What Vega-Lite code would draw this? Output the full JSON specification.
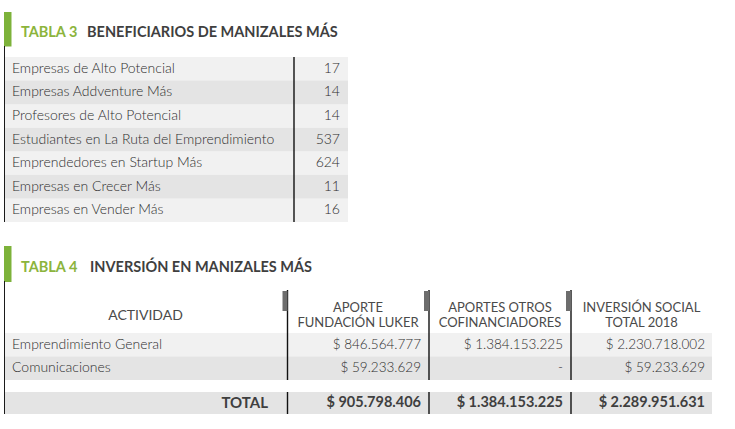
{
  "$schema": "https://vega.github.io/schema/vega-lite/v6.json",
  "padding": 0,
  "background": "white",
  "bounds": "flush",
  "spacing": 0,
  "config": {
    "view": {"stroke": null},
    "font": "Lato",
    "locale": {"number": {"decimal": ",", "thousands": ".", "grouping": [3], "currency": ["$ ", ""]}}
  },
  "datasets": {
    "titulos": [
      {"tabla": "TABLA 3", "titulo": "BENEFICIARIOS DE MANIZALES MÁS"},
      {"tabla": "TABLA 4", "titulo": "INVERSIÓN EN MANIZALES MÁS"}
    ],
    "beneficiarios": [
      {"beneficiario": "Empresas de Alto Potencial", "cantidad": 17},
      {"beneficiario": "Empresas Addventure Más", "cantidad": 14},
      {"beneficiario": "Profesores de Alto Potencial", "cantidad": 14},
      {"beneficiario": "Estudiantes en La Ruta del Emprendimiento", "cantidad": 537},
      {"beneficiario": "Emprendedores en Startup Más", "cantidad": 624},
      {"beneficiario": "Empresas en Crecer Más", "cantidad": 11},
      {"beneficiario": "Empresas en Vender Más", "cantidad": 16}
    ],
    "encabezados": [
      {"actividad": "ACTIVIDAD", "luker": "APORTE\nFUNDACIÓN LUKER", "otros": "APORTES OTROS\nCOFINANCIADORES", "total": "INVERSIÓN SOCIAL\nTOTAL 2018"}
    ],
    "inversion": [
      {"actividad": "Emprendimiento General", "luker": 846564777, "otros": 1384153225, "total": 2230718002},
      {"actividad": "Comunicaciones", "luker": 59233629, "otros": null, "total": 59233629}
    ],
    "totales": [
      {"actividad": "TOTAL", "luker": 905798406, "otros": 1384153225, "total": 2289951631}
    ],
    "estructura": [{}]
  },
  "vconcat": [
    {
      "width": 735, "height": 57,
      "data": {"name": "titulos"},
      "transform": [{"filter": "datum.tabla == 'TABLA 3'"}],
      "layer": [
        {"mark": {"type": "rect", "color": "#7db23a"},
         "encoding": {"x": {"datum": 4, "type": "quantitative", "scale": {"domain": [0, 735], "nice": false, "zero": false}, "axis": null}, "x2": {"datum": 11.5},
                      "y": {"datum": 12, "type": "quantitative", "scale": {"domain": [0, 57], "nice": false, "zero": false, "reverse": true}, "axis": null}, "y2": {"datum": 46.5}}},
        {"mark": {"type": "rule", "color": "#1a1a1a", "strokeWidth": 1},
         "encoding": {"x": {"datum": 4.5, "type": "quantitative"}, "y": {"datum": 46, "type": "quantitative"}, "y2": {"datum": 57}}},
        {"mark": {"type": "text", "align": "left", "baseline": "alphabetic", "fontWeight": "bold", "fontSize": 14.5, "color": "#8cb43c"},
         "encoding": {"x": {"datum": 21, "type": "quantitative"}, "y": {"datum": 36.5, "type": "quantitative"}, "text": {"field": "tabla"}}},
        {"mark": {"type": "text", "align": "left", "baseline": "alphabetic", "fontWeight": "bold", "fontSize": 14.5, "color": "#3f3f3f"},
         "encoding": {"x": {"datum": 87, "type": "quantitative"}, "y": {"datum": 36.5, "type": "quantitative"}, "text": {"field": "titulo"}}}
      ]
    },
    {
      "width": 735, "height": 165,
      "data": {"name": "beneficiarios"},
      "transform": [{"window": [{"op": "row_number", "as": "fila"}]}],
      "layer": [
        {"mark": {"type": "rect", "color": "#f1f1f1"},
         "encoding": {"x": {"datum": 4, "type": "quantitative", "scale": {"domain": [0, 735], "nice": false, "zero": false}, "axis": null}, "x2": {"datum": 348},
                      "y": {"field": "beneficiario", "type": "nominal", "sort": null, "axis": null, "scale": {"paddingInner": 0, "paddingOuter": 0}}}},
        {"transform": [{"filter": "datum.fila % 2 == 0"}],
         "mark": {"type": "rect", "color": "#e4e4e4"},
         "encoding": {"x": {"datum": 4, "type": "quantitative"}, "x2": {"datum": 348},
                      "y": {"field": "beneficiario", "type": "nominal", "sort": null, "axis": null}}},
        {"transform": [{"filter": "datum.fila == 1"}],
         "mark": {"type": "rule", "color": "#1a1a1a", "strokeWidth": 1},
         "encoding": {"x": {"datum": 4.5, "type": "quantitative"}}},
        {"transform": [{"filter": "datum.fila == 1"}],
         "mark": {"type": "rule", "color": "#111111", "strokeWidth": 1.4},
         "encoding": {"x": {"datum": 294, "type": "quantitative"}}},
        {"mark": {"type": "text", "align": "left", "baseline": "middle", "fontSize": 14, "fontWeight": 300, "color": "#2e2e2e"},
         "encoding": {"x": {"datum": 12, "type": "quantitative"},
                      "y": {"field": "beneficiario", "type": "nominal", "sort": null, "axis": null},
                      "text": {"field": "beneficiario"}}},
        {"mark": {"type": "text", "align": "right", "baseline": "middle", "fontSize": 14, "fontWeight": 300, "color": "#2e2e2e"},
         "encoding": {"x": {"datum": 340, "type": "quantitative"},
                      "y": {"field": "beneficiario", "type": "nominal", "sort": null, "axis": null},
                      "text": {"field": "cantidad", "type": "quantitative"}}}
      ]
    },
    {
      "width": 735, "height": 68,
      "data": {"name": "titulos"},
      "transform": [{"filter": "datum.tabla == 'TABLA 4'"}],
      "layer": [
        {"mark": {"type": "rect", "color": "#7db23a"},
         "encoding": {"x": {"datum": 4, "type": "quantitative", "scale": {"domain": [0, 735], "nice": false, "zero": false}, "axis": null}, "x2": {"datum": 11.5},
                      "y": {"datum": 24, "type": "quantitative", "scale": {"domain": [0, 68], "nice": false, "zero": false, "reverse": true}, "axis": null}, "y2": {"datum": 60}}},
        {"mark": {"type": "rule", "color": "#1a1a1a", "strokeWidth": 1},
         "encoding": {"x": {"datum": 4.5, "type": "quantitative"}, "y": {"datum": 59, "type": "quantitative"}, "y2": {"datum": 68}}},
        {"mark": {"type": "text", "align": "left", "baseline": "alphabetic", "fontWeight": "bold", "fontSize": 14.5, "color": "#8cb43c"},
         "encoding": {"x": {"datum": 21, "type": "quantitative"}, "y": {"datum": 50, "type": "quantitative"}, "text": {"field": "tabla"}}},
        {"mark": {"type": "text", "align": "left", "baseline": "alphabetic", "fontWeight": "bold", "fontSize": 14.5, "color": "#3f3f3f"},
         "encoding": {"x": {"datum": 90, "type": "quantitative"}, "y": {"datum": 50, "type": "quantitative"}, "text": {"field": "titulo"}}}
      ]
    },
    {
      "width": 735, "height": 43,
      "data": {"name": "encabezados"},
      "layer": [
        {"mark": {"type": "rule", "color": "#1a1a1a", "strokeWidth": 1},
         "encoding": {"x": {"datum": 4.5, "type": "quantitative", "scale": {"domain": [0, 735], "nice": false, "zero": false}, "axis": null}}},
        {"mark": {"type": "rule", "color": "#111111", "strokeWidth": 1.4},
         "encoding": {"x": {"datum": 287.5, "type": "quantitative"}}},
        {"mark": {"type": "rule", "color": "#111111", "strokeWidth": 1.4},
         "encoding": {"x": {"datum": 429, "type": "quantitative"}}},
        {"mark": {"type": "rule", "color": "#111111", "strokeWidth": 1.4},
         "encoding": {"x": {"datum": 571, "type": "quantitative"}}},
        {"mark": {"type": "rect", "color": "#6d6d6d"},
         "encoding": {"x": {"datum": 282.5, "type": "quantitative"}, "x2": {"datum": 287.5},
                      "y": {"datum": 1, "type": "quantitative", "scale": {"domain": [0, 43], "nice": false, "zero": false, "reverse": true}, "axis": null}, "y2": {"datum": 21}}},
        {"mark": {"type": "rect", "color": "#6d6d6d"},
         "encoding": {"x": {"datum": 424, "type": "quantitative"}, "x2": {"datum": 429}, "y": {"datum": 1, "type": "quantitative"}, "y2": {"datum": 21}}},
        {"mark": {"type": "rect", "color": "#6d6d6d"},
         "encoding": {"x": {"datum": 566, "type": "quantitative"}, "x2": {"datum": 571}, "y": {"datum": 1, "type": "quantitative"}, "y2": {"datum": 21}}},
        {"mark": {"type": "text", "align": "center", "baseline": "alphabetic", "fontSize": 14, "color": "#4a4a4a"},
         "encoding": {"x": {"datum": 145.5, "type": "quantitative"}, "y": {"datum": 30, "type": "quantitative"}, "text": {"field": "actividad"}}},
        {"mark": {"type": "text", "align": "center", "baseline": "alphabetic", "fontSize": 13, "color": "#4a4a4a", "lineBreak": "\n", "lineHeight": 15},
         "encoding": {"x": {"datum": 358, "type": "quantitative"}, "y": {"datum": 22, "type": "quantitative"}, "text": {"field": "luker"}}},
        {"mark": {"type": "text", "align": "center", "baseline": "alphabetic", "fontSize": 13, "color": "#4a4a4a", "lineBreak": "\n", "lineHeight": 15},
         "encoding": {"x": {"datum": 500, "type": "quantitative"}, "y": {"datum": 22, "type": "quantitative"}, "text": {"field": "otros"}}},
        {"mark": {"type": "text", "align": "center", "baseline": "alphabetic", "fontSize": 13, "color": "#4a4a4a", "lineBreak": "\n", "lineHeight": 15},
         "encoding": {"x": {"datum": 641.5, "type": "quantitative"}, "y": {"datum": 22, "type": "quantitative"}, "text": {"field": "total"}}}
      ]
    },
    {
      "width": 735, "height": 47,
      "data": {"name": "inversion"},
      "transform": [{"window": [{"op": "row_number", "as": "fila"}]}],
      "layer": [
        {"mark": {"type": "rect", "color": "#f1f1f1"},
         "encoding": {"x": {"datum": 4, "type": "quantitative", "scale": {"domain": [0, 735], "nice": false, "zero": false}, "axis": null}, "x2": {"datum": 712},
                      "y": {"field": "actividad", "type": "nominal", "sort": null, "axis": null, "scale": {"paddingInner": 0, "paddingOuter": 0}}}},
        {"transform": [{"filter": "datum.fila % 2 == 0"}],
         "mark": {"type": "rect", "color": "#e4e4e4"},
         "encoding": {"x": {"datum": 4, "type": "quantitative"}, "x2": {"datum": 712},
                      "y": {"field": "actividad", "type": "nominal", "sort": null, "axis": null}}},
        {"transform": [{"filter": "datum.fila == 1"}], "mark": {"type": "rule", "color": "#1a1a1a", "strokeWidth": 1},
         "encoding": {"x": {"datum": 4.5, "type": "quantitative"}}},
        {"transform": [{"filter": "datum.fila == 1"}], "mark": {"type": "rule", "color": "#111111", "strokeWidth": 1.4},
         "encoding": {"x": {"datum": 287.5, "type": "quantitative"}}},
        {"transform": [{"filter": "datum.fila == 1"}], "mark": {"type": "rule", "color": "#111111", "strokeWidth": 1.4},
         "encoding": {"x": {"datum": 429, "type": "quantitative"}}},
        {"transform": [{"filter": "datum.fila == 1"}], "mark": {"type": "rule", "color": "#111111", "strokeWidth": 1.4},
         "encoding": {"x": {"datum": 571, "type": "quantitative"}}},
        {"mark": {"type": "text", "align": "left", "baseline": "middle", "fontSize": 14, "fontWeight": 300, "color": "#2e2e2e"},
         "encoding": {"x": {"datum": 12, "type": "quantitative"}, "y": {"field": "actividad", "type": "nominal", "sort": null, "axis": null}, "text": {"field": "actividad"}}},
        {"mark": {"type": "text", "align": "right", "baseline": "middle", "fontSize": 13.5, "fontWeight": 300, "color": "#2e2e2e"},
         "encoding": {"x": {"datum": 421, "type": "quantitative"}, "y": {"field": "actividad", "type": "nominal", "sort": null, "axis": null}, "text": {"field": "luker", "type": "quantitative", "format": "$,.0f"}}},
        {"mark": {"type": "text", "align": "right", "baseline": "middle", "fontSize": 13.5, "fontWeight": 300, "color": "#2e2e2e"},
         "encoding": {"x": {"datum": 563, "type": "quantitative"}, "y": {"field": "actividad", "type": "nominal", "sort": null, "axis": null}, "text": {"condition": {"test": "datum.otros == null", "value": "-"}, "field": "otros", "type": "quantitative", "format": "$,.0f"}}},
        {"mark": {"type": "text", "align": "right", "baseline": "middle", "fontSize": 13.5, "fontWeight": 300, "color": "#2e2e2e"},
         "encoding": {"x": {"datum": 705, "type": "quantitative"}, "y": {"field": "actividad", "type": "nominal", "sort": null, "axis": null}, "text": {"field": "total", "type": "quantitative", "format": "$,.0f"}}}
      ]
    },
    {
      "width": 735, "height": 12,
      "data": {"name": "estructura"},
      "mark": {"type": "rule", "color": "#1a1a1a", "strokeWidth": 1},
      "encoding": {"x": {"datum": 4.5, "type": "quantitative", "scale": {"domain": [0, 735], "nice": false, "zero": false}, "axis": null}}
    },
    {
      "width": 735, "height": 22,
      "data": {"name": "totales"},
      "layer": [
        {"mark": {"type": "rect", "color": "#e4e4e4"},
         "encoding": {"x": {"datum": 4, "type": "quantitative", "scale": {"domain": [0, 735], "nice": false, "zero": false}, "axis": null}, "x2": {"datum": 712}}},
        {"mark": {"type": "rule", "color": "#1a1a1a", "strokeWidth": 1}, "encoding": {"x": {"datum": 4.5, "type": "quantitative"}}},
        {"mark": {"type": "rule", "color": "#111111", "strokeWidth": 1.4}, "encoding": {"x": {"datum": 287.5, "type": "quantitative"}}},
        {"mark": {"type": "rule", "color": "#111111", "strokeWidth": 1.4}, "encoding": {"x": {"datum": 429, "type": "quantitative"}}},
        {"mark": {"type": "rule", "color": "#111111", "strokeWidth": 1.4}, "encoding": {"x": {"datum": 571, "type": "quantitative"}}},
        {"mark": {"type": "text", "align": "right", "baseline": "middle", "fontSize": 15, "fontWeight": "bold", "color": "#3f3f3f"},
         "encoding": {"x": {"datum": 268, "type": "quantitative"}, "text": {"field": "actividad"}}},
        {"mark": {"type": "text", "align": "right", "baseline": "middle", "fontSize": 14.5, "fontWeight": "bold", "color": "#3f3f3f"},
         "encoding": {"x": {"datum": 421, "type": "quantitative"}, "text": {"field": "luker", "type": "quantitative", "format": "$,.0f"}}},
        {"mark": {"type": "text", "align": "right", "baseline": "middle", "fontSize": 14.5, "fontWeight": "bold", "color": "#3f3f3f"},
         "encoding": {"x": {"datum": 563, "type": "quantitative"}, "text": {"field": "otros", "type": "quantitative", "format": "$,.0f"}}},
        {"mark": {"type": "text", "align": "right", "baseline": "middle", "fontSize": 14.5, "fontWeight": "bold", "color": "#3f3f3f"},
         "encoding": {"x": {"datum": 705, "type": "quantitative"}, "text": {"field": "total", "type": "quantitative", "format": "$,.0f"}}}
      ]
    }
  ]
}
